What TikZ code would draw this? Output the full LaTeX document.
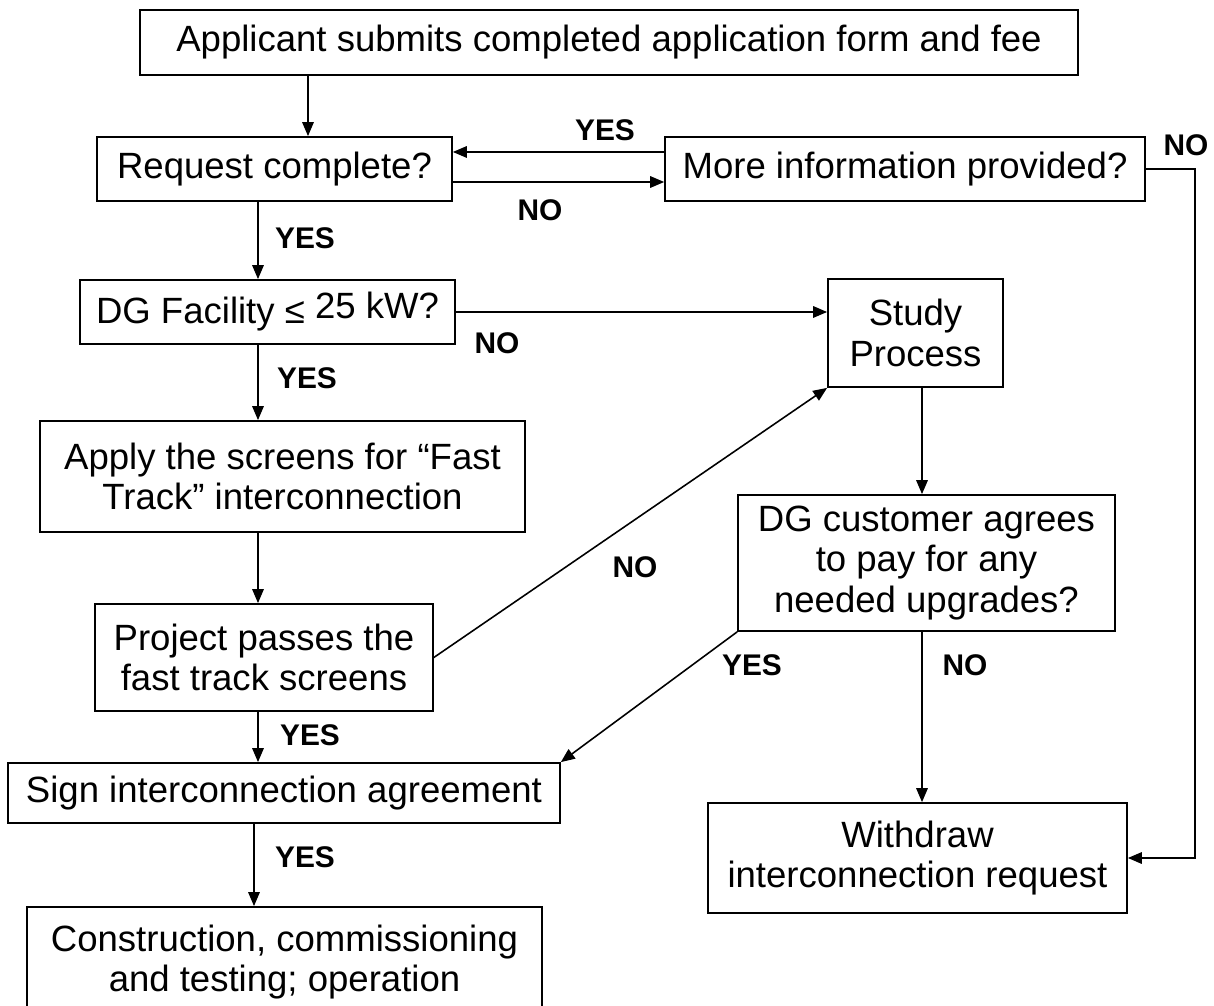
\documentclass[tikz,border=0pt]{standalone}
\usepackage{fontspec}
\setmainfont{Liberation Sans}
\usetikzlibrary{arrows.meta,positioning}

\begin{document}
\begin{tikzpicture}[x=0.02cm,y=-0.02cm,>={Triangle[length=0.28cm,width=0.23cm]},font=\fontsize{20.8}{23}\selectfont]
\tikzstyle{b}=[draw,line width=1pt,align=center,inner sep=0pt]
\tikzstyle{lab}=[font=\fontsize{17}{17}\selectfont\bfseries]
\tikzstyle{ln}=[line width=0.9pt]
\useasboundingbox (0,0) rectangle (1214,1006);
\clip (0,0) rectangle (1214,1006);
% boxes
\node[b,minimum width=18.76cm,minimum height=1.3cm] (app) at (609,42.5) {Applicant submits completed application form and fee};
\node[b,minimum width=7.1cm,minimum height=1.28cm] (req) at (274.5,169) {Request complete?};
\node[b,minimum width=9.6cm,minimum height=1.28cm] (info) at (905,169) {More information provided?};
\node[b,minimum width=7.5cm,minimum height=1.28cm] (dg) at (267.5,312) {DG Facility ≤ \raisebox{0.1cm}{25 kW?}};
\node[b,minimum width=3.5cm,minimum height=2.16cm] (study) at (915.5,333) {Study\\Process};
\node[b,minimum width=9.7cm,minimum height=2.22cm] (apply) at (282.5,476.5) {Apply the screens for “Fast\\Track” interconnection};
\node[b,minimum width=6.76cm,minimum height=2.14cm] (proj) at (264,657.5) {Project passes the\\fast track screens};
\node[b,minimum width=11.04cm,minimum height=1.2cm] (sign) at (284,793) {Sign interconnection agreement};
\node[b,minimum width=7.54cm,minimum height=2.72cm] (cust) at (926.5,563) {DG customer agrees\\to pay for any\\needed upgrades?};
\node[b,minimum width=8.38cm,minimum height=2.2cm] (wd) at (917.5,858) {Withdraw\\interconnection request};
\node[b,minimum width=10.3cm,minimum height=2.2cm] (cons) at (284.5,962) {Construction, commissioning\\and testing; operation};
% columns and rows for the connectors
\coordinate (c0) at (308,0); \coordinate (c1) at (258,0); \coordinate (c2) at (254,0);
\coordinate (c3) at (922,0); \coordinate (rt) at (1195,0);
\coordinate (r0) at (0,152); \coordinate (r1) at (0,182);
% connectors
\draw[ln,->] (app.south -| c0) -- (req.north -| c0);
\draw[ln,->] (info.west |- r0) -- (req.east |- r0);
\draw[ln,->] (req.east |- r1) -- (info.west |- r1);
\draw[ln,->] (info.east) -- (info.east -| rt) |- (wd.east);
\draw[ln,->] (req.south -| c1) -- (dg.north -| c1);
\draw[ln,->] (dg.east) -- (study.west |- dg.east);
\draw[ln,->] (dg.south -| c1) -- (apply.north -| c1);
\draw[ln,->] (apply.south -| c1) -- (proj.north -| c1);
\draw[ln,->] (proj.east) -- (study.south west);
\draw[ln,->] (proj.south -| c1) -- (sign.north -| c1);
\draw[ln,->] (study.south -| c3) -- (cust.north -| c3);
\draw[ln,->] (cust.south west) -- (sign.north east);
\draw[ln,->] (cust.south -| c3) -- (wd.north -| c3);
\draw[ln,->] (sign.south -| c2) -- (cons.north -| c2);
% YES / NO labels
\node[lab] (y0) at (605,130) {YES};
\node[lab] (n0) at (540,210) {NO};
\node[lab] (n1) at (1186,145) {NO};
\node[lab] (y1) at (305,238) {YES};
\node[lab] (n2) at (497,343) {NO};
\node[lab] (y2) at (307,378) {YES};
\node[lab] (n3) at (635,567) {NO};
\node[lab] (y3) at (310,735) {YES};
\node[lab] (y4) at (752,665) {YES};
\node[lab] (n4) at (965,665) {NO};
\node[lab] (y5) at (305,857) {YES};
\end{tikzpicture}
\end{document}
